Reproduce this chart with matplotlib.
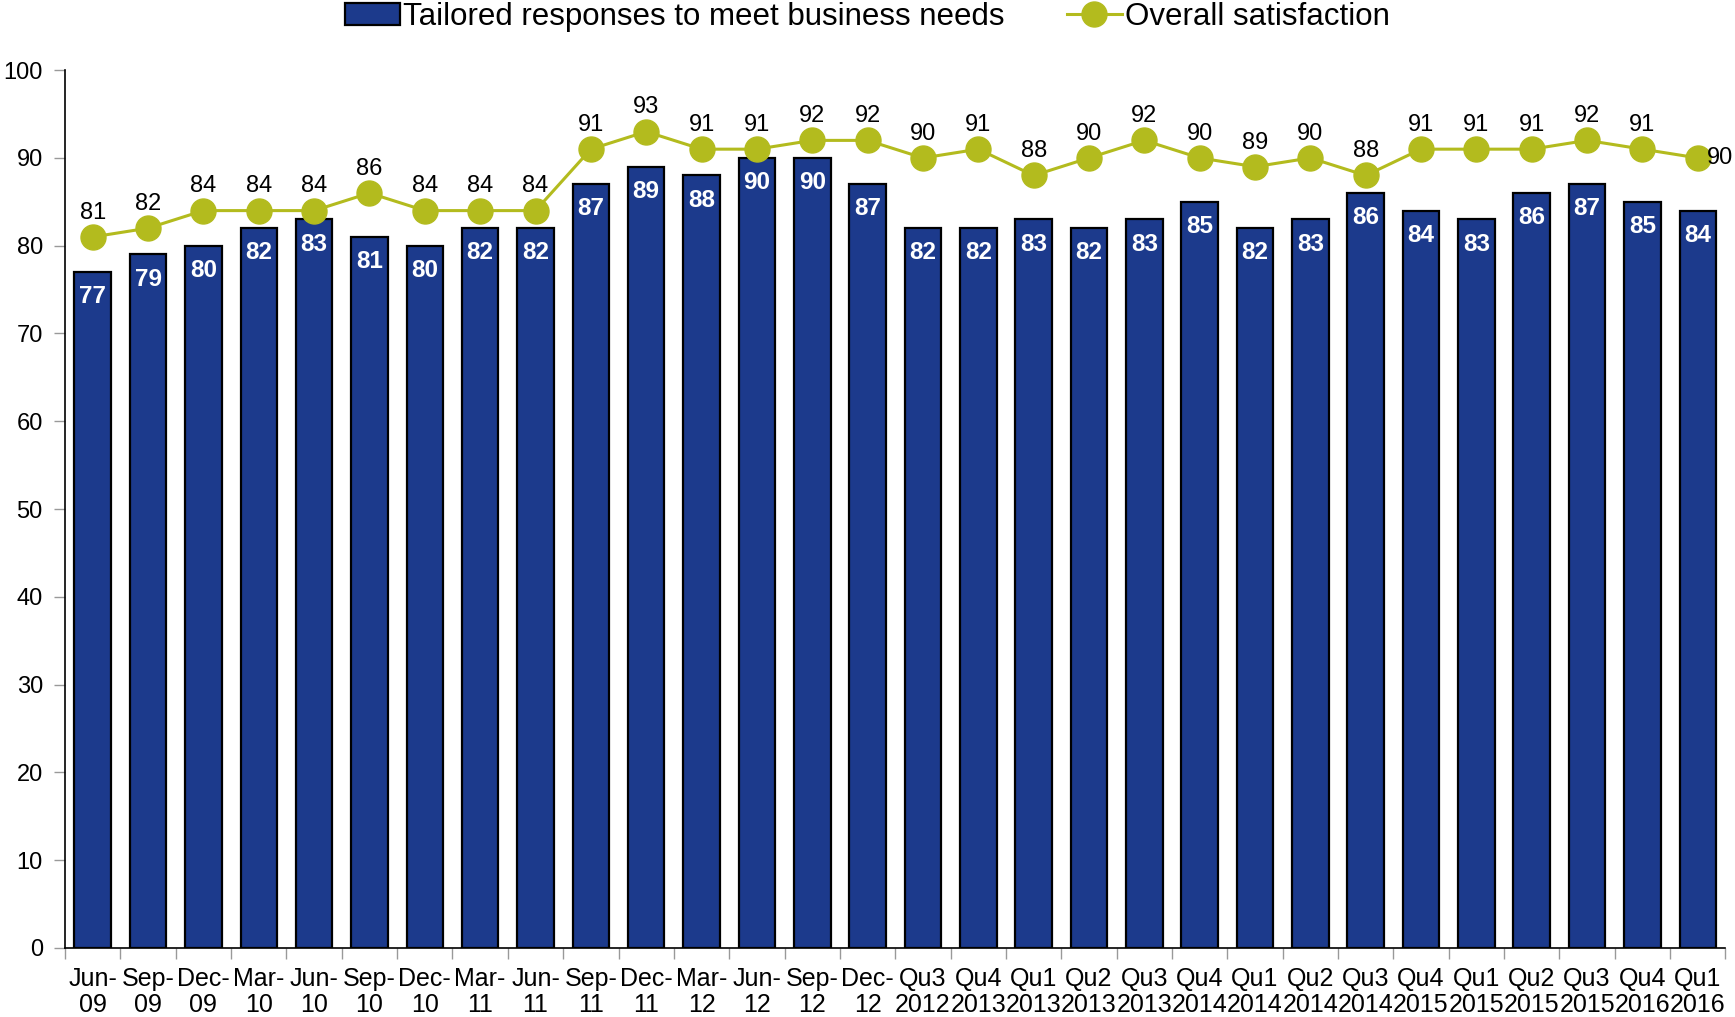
import matplotlib
matplotlib.use("Agg")
import matplotlib.pyplot as plt
import numpy as np

plt.rcParams['font.family'] = ['Liberation Sans', 'DejaVu Sans']

categories = ["Jun-\n09", "Sep-\n09", "Dec-\n09", "Mar-\n10", "Jun-\n10", "Sep-\n10", "Dec-\n10",
              "Mar-\n11", "Jun-\n11", "Sep-\n11", "Dec-\n11", "Mar-\n12", "Jun-\n12", "Sep-\n12",
              "Dec-\n12", "Qu3\n2012", "Qu4\n2013", "Qu1\n2013", "Qu2\n2013", "Qu3\n2013",
              "Qu4\n2014", "Qu1\n2014", "Qu2\n2014", "Qu3\n2014", "Qu4\n2015", "Qu1\n2015",
              "Qu2\n2015", "Qu3\n2015", "Qu4\n2016", "Qu1\n2016"]
tailored = [77, 79, 80, 82, 83, 81, 80, 82, 82, 87, 89, 88, 90, 90, 87,
            82, 82, 83, 82, 83, 85, 82, 83, 86, 84, 83, 86, 87, 85, 84]
overall = [81, 82, 84, 84, 84, 86, 84, 84, 84, 91, 93, 91, 91, 92, 92,
           90, 91, 88, 90, 92, 90, 89, 90, 88, 91, 91, 91, 92, 91, 90]
yticks = [0, 10, 20, 30, 40, 50, 60, 70, 80, 90, 100]

bar_color = "#1c3a8c"
line_color = "#b3bb1e"

fig = plt.figure(figsize=(17.35, 10.17), dpi=100)
ax = fig.add_axes([0.0375, 0.068, 0.957, 0.863])

x = np.arange(len(categories))
bars = ax.bar(x, tailored, width=0.66, color=bar_color, edgecolor="black", linewidth=1.6,
              label="Tailored responses to meet business needs", zorder=2)
line, = ax.plot(x, overall, color=line_color, linewidth=2.2, marker="o", markersize=18,
                label="Overall satisfaction", zorder=3)

for xi, v in zip(x, tailored):
    ax.text(xi, v - 1.5, str(v), ha="center", va="top", color="white",
            fontsize=17.5, fontweight="bold", zorder=4)
for i, (xi, v) in enumerate(zip(x, overall)):
    if i == len(overall) - 1:
        ax.text(xi + 0.17, v, str(v), ha="left", va="center", fontsize=17, zorder=4)
    else:
        ax.text(xi, v + 1.5, str(v), ha="center", va="bottom", fontsize=17, zorder=4)

ax.set_xlim(-0.5, len(categories) - 0.5)
ax.set_ylim(0, 100)
ax.set_yticks(yticks)
ax.set_yticklabels([str(t) for t in yticks], fontsize=17)
ax.set_xticks(x)
ax.set_xticklabels(categories, fontsize=18, linespacing=1.15)
ax.tick_params(axis="x", length=0, pad=13.5)
ax.set_xticks(np.arange(-0.5, len(categories), 1.0), minor=True)
ax.tick_params(axis="x", which="minor", length=8, color="#999999", width=1)
ax.tick_params(axis="y", length=8, color="#999999", width=1, pad=8)

for s in ["top", "right"]:
    ax.spines[s].set_visible(False)
ax.spines["left"].set_linewidth(1.2)
ax.spines["bottom"].set_linewidth(1.2)

fig.legend(handles=[bars, line], loc="center", bbox_to_anchor=(0.5, 0.983), ncol=2,
           frameon=False, fontsize=22.5, handlelength=1.75, handletextpad=0.1, columnspacing=2.0)

fig.savefig("out.png", dpi=100)
